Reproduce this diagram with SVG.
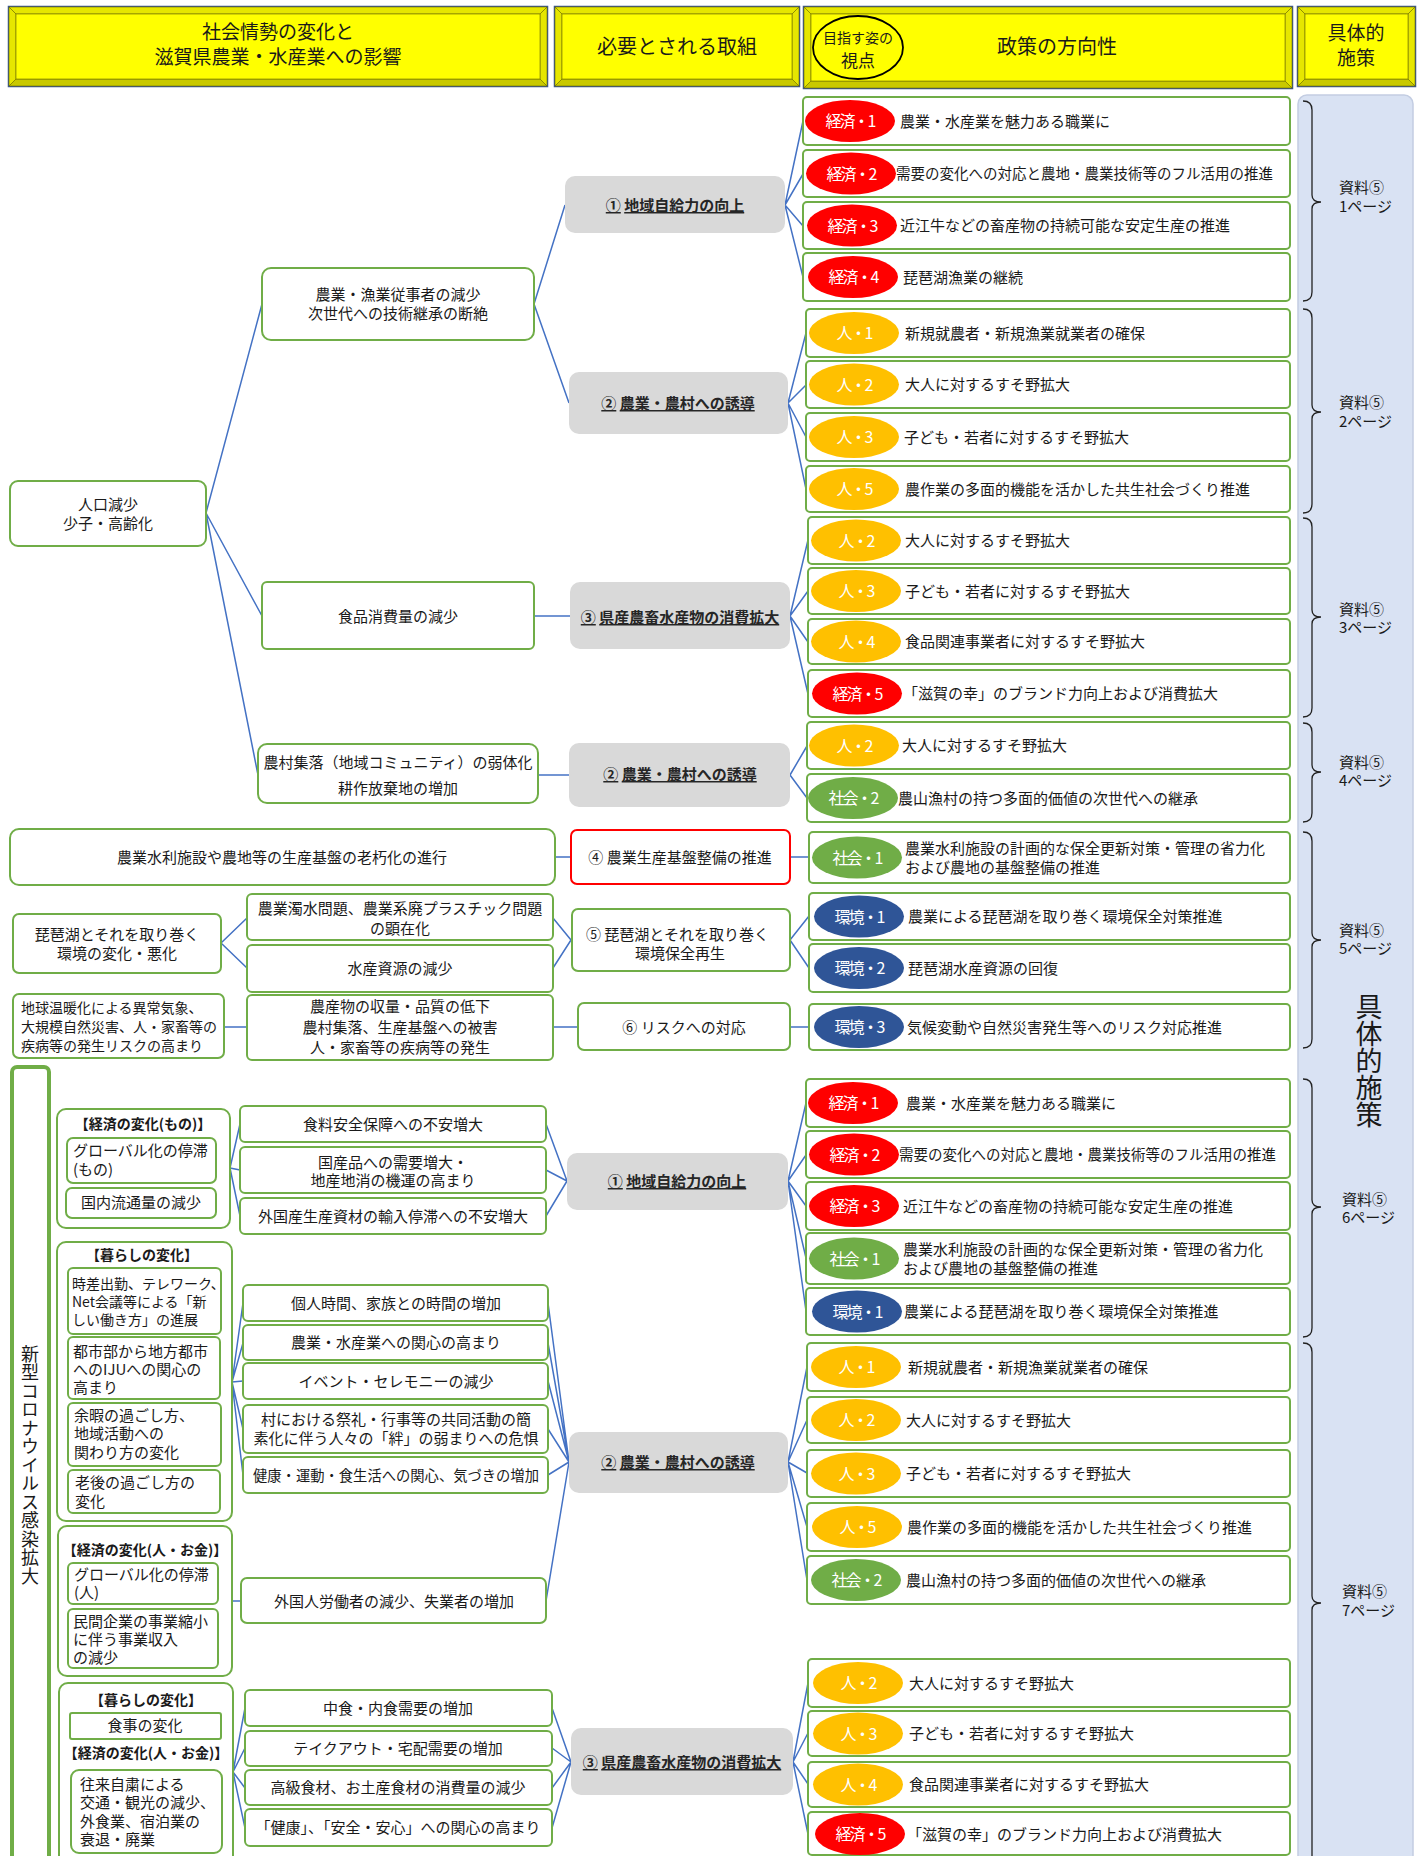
<svg xmlns="http://www.w3.org/2000/svg" width="1423" height="1856" viewBox="0 0 1423 1856">
<style>
text{font-family:"Noto Sans CJK JP","Noto Sans",sans-serif;fill:#1a1a1a}
.t{font-size:15px}
.s{font-size:14px}
.m{text-anchor:middle}
.b{font-weight:bold}
.g{fill:#fff;stroke:#70AD47;stroke-width:2}
.gr{fill:#D9D9D9}
.c{stroke:#4472C4;stroke-width:1.5;fill:none}
.br{stroke:#222;stroke-width:1.3;fill:none}
.eco{fill:#FF0000}.hum{fill:#FFC000}.soc{fill:#70AD47}.env{fill:#2F5597}
.bt{font-size:16px;fill:#fff;text-anchor:middle;letter-spacing:-2px}
.gt{font-size:15px;font-weight:bold;text-anchor:middle;fill:#262626}
.u{text-decoration:underline}
.hf{fill:#FFFF00;stroke:#3A5590;stroke-width:2.5}
.hb{fill:#C9C900;stroke:#6B6B00;stroke-width:0.6}
.hs{fill:#E6E600;stroke:#6B6B00;stroke-width:0.6}
.hi{fill:#FFFF00;stroke:#6B6B00;stroke-width:0.6}
.ht{font-size:20px;text-anchor:middle}
.ht2{font-size:19px;text-anchor:middle}
.lbl{font-size:15px}
.v{writing-mode:vertical-rl;text-orientation:upright}
</style>

<!-- Header -->
<g id="h1">
<rect class="hf" x="9" y="7" width="538" height="79"/>
<polygon class="hs" points="9,7 547,7 540,14 16,14"/>
<polygon class="hb" points="9,86 547,86 540,79 16,79"/>
<polygon class="hs" points="9,7 16,14 16,79 9,86"/>
<polygon class="hs" points="547,7 540,14 540,79 547,86"/>
<rect class="hi" x="16" y="14" width="524" height="65"/>
<text class="ht2" x="278" y="39">社会情勢の変化と</text>
<text class="ht2" x="278" y="64">滋賀県農業・水産業への影響</text>
</g>
<g id="h2">
<rect class="hf" x="555" y="7" width="244" height="79"/>
<polygon class="hs" points="555,7 799,7 792,14 562,14"/>
<polygon class="hb" points="555,86 799,86 792,79 562,79"/>
<polygon class="hs" points="555,7 562,14 562,79 555,86"/>
<polygon class="hs" points="799,7 792,14 792,79 799,86"/>
<rect class="hi" x="562" y="14" width="230" height="65"/>
<text class="ht" x="677" y="54">必要とされる取組</text>
</g>
<g id="h3">
<rect class="hf" x="804" y="7" width="488" height="81"/>
<polygon class="hs" points="804,7 1292,7 1285,14 811,14"/>
<polygon class="hb" points="804,88 1292,88 1285,81 811,81"/>
<polygon class="hs" points="804,7 811,14 811,81 804,88"/>
<polygon class="hs" points="1292,7 1285,14 1285,81 1292,88"/>
<rect class="hi" x="811" y="14" width="474" height="67"/>
<ellipse cx="858" cy="47.5" rx="45" ry="31.5" fill="none" stroke="#000" stroke-width="1.8"/>
<text x="858" y="43" class="m" style="font-size:14px">目指す姿の</text>
<text x="858" y="67" class="m" style="font-size:17px">視点</text>
<text class="ht" x="1057" y="54">政策の方向性</text>
</g>
<g id="h4">
<rect class="hf" x="1298" y="7" width="117" height="79"/>
<polygon class="hs" points="1298,7 1415,7 1408,14 1305,14"/>
<polygon class="hb" points="1298,86 1415,86 1408,79 1305,79"/>
<polygon class="hs" points="1298,7 1305,14 1305,79 1298,86"/>
<polygon class="hs" points="1415,7 1408,14 1408,79 1415,86"/>
<rect class="hi" x="1305" y="14" width="103" height="65"/>
<text class="ht2" x="1356" y="40">具体的</text>
<text class="ht2" x="1356" y="65">施策</text>
</g>

<!-- Right panel -->
<g id="panel">
<rect x="1298" y="95" width="115" height="1775" rx="9" fill="#D9E2F3" stroke="#C3CDE2" stroke-width="1.5"/>
<text class="v" x="1369" y="993" style="font-size:27px">具体的施策</text>
</g>

<!-- Braces -->
<g id="braces">
<path class="br" d="M1303,101 Q1312,101 1312,110 L1312,195 Q1312,202 1321,202 Q1312,202 1312,209 L1312,292 Q1312,301 1303,301"/>
<path class="br" d="M1303,309 Q1312,309 1312,318 L1312,405 Q1312,412 1321,412 Q1312,412 1312,419 L1312,504 Q1312,513 1303,513"/>
<path class="br" d="M1303,518 Q1312,518 1312,527 L1312,610 Q1312,617 1321,617 Q1312,617 1312,624 L1312,708 Q1312,717 1303,717"/>
<path class="br" d="M1303,723 Q1312,723 1312,732 L1312,765 Q1312,772 1321,772 Q1312,772 1312,779 L1312,813 Q1312,822 1303,822"/>
<path class="br" d="M1303,832 Q1312,832 1312,841 L1312,933 Q1312,940 1321,940 Q1312,940 1312,947 L1312,1039 Q1312,1048 1303,1048"/>
<path class="br" d="M1303,1079 Q1312,1079 1312,1088 L1312,1200 Q1312,1207 1321,1207 Q1312,1207 1312,1214 L1312,1328 Q1312,1337 1303,1337"/>
<path class="br" d="M1303,1343 Q1312,1343 1312,1352 L1312,1596 Q1312,1603 1321,1603 Q1312,1603 1312,1610 L1312,1870"/>
<text class="lbl"><tspan x="1339" y="193">資料⑤</tspan><tspan x="1339" y="212">1ページ</tspan></text>
<text class="lbl"><tspan x="1339" y="408">資料⑤</tspan><tspan x="1339" y="427">2ページ</tspan></text>
<text class="lbl"><tspan x="1339" y="615">資料⑤</tspan><tspan x="1339" y="633">3ページ</tspan></text>
<text class="lbl"><tspan x="1339" y="768">資料⑤</tspan><tspan x="1339" y="786">4ページ</tspan></text>
<text class="lbl"><tspan x="1339" y="936">資料⑤</tspan><tspan x="1339" y="954">5ページ</tspan></text>
<text class="lbl"><tspan x="1342" y="1205">資料⑤</tspan><tspan x="1342" y="1223">6ページ</tspan></text>
<text class="lbl"><tspan x="1342" y="1597">資料⑤</tspan><tspan x="1342" y="1616">7ページ</tspan></text>
</g>

<!-- Connectors -->
<g id="connectors">
<path class="c" d="M206,513 L262,304 M206,513 L262,616 M206,513 L258,775"/>
<path class="c" d="M534,304 L565,205 M534,304 L569,403"/>
<path class="c" d="M785,205 L803,121 M785,205 L803,174 M785,205 L803,226 M785,205 L803,277"/>
<path class="c" d="M788,403 L806,333 M788,403 L806,385 M788,403 L806,437 M788,403 L806,489"/>
<path class="c" d="M534,616 L570,616"/>
<path class="c" d="M790,616 L808,540 M790,616 L808,591 M790,616 L808,642 M790,616 L808,694"/>
<path class="c" d="M538,775 L569,775"/>
<path class="c" d="M790,775 L807,746 M790,775 L807,798"/>
<path class="c" d="M555,857 L570,857 M790,857 L809,857"/>
<path class="c" d="M221,943 L247,918 M221,943 L247,968"/>
<path class="c" d="M553,918 L571,940 M553,968 L571,940"/>
<path class="c" d="M790,940 L809,916 M790,940 L809,968"/>
<path class="c" d="M224,1027 L247,1027 M553,1027 L578,1027 M790,1027 L809,1027"/>
<path class="c" d="M230,1168 L240,1124 M230,1168 L240,1170 M230,1168 L240,1216"/>
<path class="c" d="M546,1124 L567,1181 M546,1170 L567,1181 M546,1216 L567,1181"/>
<path class="c" d="M788,1181 L806,1103 M788,1181 L806,1155 M788,1181 L806,1206 M788,1181 L806,1258 M788,1181 L806,1311"/>
<path class="c" d="M232,1382 L243,1303 M232,1382 L243,1343 M232,1382 L243,1381 M232,1382 L243,1429 M232,1382 L243,1475"/>
<path class="c" d="M548,1303 L569,1462 M548,1343 L569,1462 M548,1381 L569,1462 M548,1429 L569,1462 M548,1475 L569,1462 M546,1601 L569,1462"/>
<path class="c" d="M232,1601 L241,1601"/>
<path class="c" d="M788,1462 L807,1367 M788,1462 L807,1420 M788,1462 L807,1473 M788,1462 L807,1527 M788,1462 L807,1580"/>
<path class="c" d="M233,1772 L245,1708 M233,1772 L245,1748 M233,1772 L245,1788 M233,1772 L245,1828"/>
<path class="c" d="M552,1708 L571,1762 M552,1748 L571,1762 M552,1788 L571,1762 M552,1828 L571,1762"/>
<path class="c" d="M793,1762 L808,1683 M793,1762 L808,1733 M793,1762 L808,1784 M793,1762 L808,1834"/>
</g>

<!-- Top left nodes -->
<g id="n_root"><rect class="g" x="10" y="481" width="196" height="65" rx="8"/>
<text class="t m" x="108" y="510">人口減少</text><text class="t m" x="108" y="529">少子・高齢化</text></g>
<g id="n_m1"><rect class="g" x="262" y="268" width="272" height="72" rx="9"/>
<text class="t m" x="398" y="300">農業・漁業従事者の減少</text><text class="t m" x="398" y="319">次世代への技術継承の断絶</text></g>
<g id="n_m2"><rect class="g" x="262" y="582" width="272" height="67" rx="5"/>
<text class="t m" x="398" y="622">食品消費量の減少</text></g>
<g id="n_m3"><rect class="g" x="258" y="744" width="280" height="59" rx="9"/>
<text class="t m" x="398" y="768">農村集落（地域コミュニティ）の弱体化</text><text class="t m" x="398" y="794">耕作放棄地の増加</text></g>
<g id="n_old"><rect class="g" x="10" y="829" width="545" height="56" rx="9"/>
<text class="t m" x="282" y="863">農業水利施設や農地等の生産基盤の老朽化の進行</text></g>
<g id="n_biwa"><rect class="g" x="13" y="914" width="208" height="59" rx="6"/>
<text class="t m" x="117" y="940">琵琶湖とそれを取り巻く</text><text class="t m" x="117" y="959">環境の変化・悪化</text></g>
<g id="n_daku"><rect class="g" x="247" y="894" width="306" height="46" rx="5"/>
<text class="t m" x="400" y="914">農業濁水問題、農業系廃プラスチック問題</text><text class="t m" x="400" y="934">の顕在化</text></g>
<g id="n_suisan"><rect class="g" x="247" y="945" width="306" height="47" rx="5"/>
<text class="t m" x="400" y="974">水産資源の減少</text></g>
<g id="n_ondan"><rect class="g" x="13" y="994" width="211" height="64" rx="6"/>
<text class="s" x="21" y="1013">地球温暖化による異常気象、</text><text class="s" x="21" y="1032">大規模自然災害、人・家畜等の</text><text class="s" x="21" y="1051">疾病等の発生リスクの高まり</text></g>
<g id="n_nousan"><rect class="g" x="247" y="995" width="306" height="65" rx="5"/>
<text class="t m" x="400" y="1012">農産物の収量・品質の低下</text><text class="t m" x="400" y="1033">農村集落、生産基盤への被害</text><text class="t m" x="400" y="1053">人・家畜等の疾病等の発生</text></g>

<!-- Top gray nodes -->
<g id="n_a1"><rect class="gr" x="565" y="176" width="220" height="57" rx="10"/>
<text class="gt" x="675" y="211"><tspan class="u">①</tspan> <tspan class="u">地域自給力の向上</tspan></text></g>
<g id="n_a2"><rect class="gr" x="569" y="372" width="219" height="62" rx="10"/>
<text class="gt" x="678" y="409"><tspan class="u">②</tspan> <tspan class="u">農業・農村への誘導</tspan></text></g>
<g id="n_a3"><rect class="gr" x="570" y="582" width="220" height="67" rx="10"/>
<text class="gt" x="680" y="623"><tspan class="u">③</tspan> <tspan class="u">県産農畜水産物の消費拡大</tspan></text></g>
<g id="n_a2b"><rect class="gr" x="569" y="743" width="221" height="64" rx="10"/>
<text class="gt" x="680" y="780"><tspan class="u">②</tspan> <tspan class="u">農業・農村への誘導</tspan></text></g>
<g id="n_a4"><rect x="571" y="830" width="219" height="54" rx="6" fill="#fff" stroke="#FF0000" stroke-width="2"/>
<text class="t m" x="680" y="863">④ 農業生産基盤整備の推進</text></g>
<g id="n_a5"><rect class="g" x="572" y="909" width="218" height="62" rx="6"/>
<text class="t" x="586" y="940">⑤ 琵琶湖とそれを取り巻く</text><text class="t m" x="680" y="959">環境保全再生</text></g>
<g id="n_a6"><rect class="g" x="578" y="1003" width="212" height="47" rx="6"/>
<text class="t m" x="684" y="1033">⑥ リスクへの対応</text></g>

<!-- Top policy rows -->
<g id="p1"><rect class="g" x="803" y="97" width="487" height="48" rx="4"/><ellipse class="eco" cx="850" cy="121" rx="45" ry="21"/><text class="bt" x="850" y="127">経済・1</text><text class="t" x="900" y="126.5">農業・水産業を魅力ある職業に</text></g>
<g id="p2"><rect class="g" x="803" y="150" width="487" height="47" rx="4"/><ellipse class="eco" cx="851" cy="173.5" rx="45" ry="21"/><text class="bt" x="851" y="179.5">経済・2</text><text x="896" y="179" style="font-size:14.5px">需要の変化への対応と農地・農業技術等のフル活用の推進</text></g>
<g id="p3"><rect class="g" x="803" y="202" width="487" height="47" rx="4"/><ellipse class="eco" cx="852" cy="225.5" rx="45" ry="21"/><text class="bt" x="852" y="231.5">経済・3</text><text class="t" x="900" y="231">近江牛などの畜産物の持続可能な安定生産の推進</text></g>
<g id="p4"><rect class="g" x="803" y="253" width="487" height="48" rx="4"/><ellipse class="eco" cx="853" cy="277" rx="45" ry="21"/><text class="bt" x="853" y="283">経済・4</text><text class="t" x="903" y="282.5">琵琶湖漁業の継続</text></g>
<g id="p5"><rect class="g" x="806" y="309" width="484" height="48" rx="4"/><ellipse class="hum" cx="854" cy="333" rx="45" ry="21"/><text class="bt" x="854" y="339">人・1</text><text class="t" x="905" y="338.5">新規就農者・新規漁業就業者の確保</text></g>
<g id="p6"><rect class="g" x="806" y="361" width="484" height="47" rx="4"/><ellipse class="hum" cx="854" cy="384.5" rx="45" ry="21"/><text class="bt" x="854" y="390.5">人・2</text><text class="t" x="905" y="390">大人に対するすそ野拡大</text></g>
<g id="p7"><rect class="g" x="806" y="413" width="484" height="48" rx="4"/><ellipse class="hum" cx="854" cy="437" rx="45" ry="21"/><text class="bt" x="854" y="443">人・3</text><text class="t" x="904" y="442.5">子ども・若者に対するすそ野拡大</text></g>
<g id="p8"><rect class="g" x="806" y="466" width="484" height="46" rx="4"/><ellipse class="hum" cx="854" cy="489" rx="45" ry="21"/><text class="bt" x="854" y="495">人・5</text><text class="t" x="905" y="494.5">農作業の多面的機能を活かした共生社会づくり推進</text></g>
<g id="p9"><rect class="g" x="808" y="517" width="482" height="47" rx="4"/><ellipse class="hum" cx="856" cy="540.5" rx="45" ry="21"/><text class="bt" x="856" y="546.5">人・2</text><text class="t" x="905" y="546">大人に対するすそ野拡大</text></g>
<g id="p10"><rect class="g" x="808" y="568" width="482" height="46" rx="4"/><ellipse class="hum" cx="856" cy="591" rx="45" ry="21"/><text class="bt" x="856" y="597">人・3</text><text class="t" x="905" y="596.5">子ども・若者に対するすそ野拡大</text></g>
<g id="p11"><rect class="g" x="808" y="619" width="482" height="45" rx="4"/><ellipse class="hum" cx="856" cy="641.5" rx="45" ry="21"/><text class="bt" x="856" y="647.5">人・4</text><text class="t" x="905" y="647">食品関連事業者に対するすそ野拡大</text></g>
<g id="p12"><rect class="g" x="808" y="670" width="482" height="47" rx="4"/><ellipse class="eco" cx="857" cy="693.5" rx="45" ry="21"/><text class="bt" x="857" y="699.5">経済・5</text><text class="t" x="903" y="699">「滋賀の幸」のブランド力向上および消費拡大</text></g>
<g id="p13"><rect class="g" x="807" y="722" width="483" height="47" rx="4"/><ellipse class="hum" cx="854" cy="745.5" rx="45" ry="21"/><text class="bt" x="854" y="751.5">人・2</text><text class="t" x="902" y="751">大人に対するすそ野拡大</text></g>
<g id="p14"><rect class="g" x="807" y="774" width="483" height="48" rx="4"/><ellipse class="soc" cx="853" cy="798" rx="45" ry="21"/><text class="bt" x="853" y="804">社会・2</text><text class="t" x="898" y="803.5">農山漁村の持つ多面的価値の次世代への継承</text></g>
<g id="p15"><rect class="g" x="809" y="832" width="481" height="51" rx="4"/><ellipse class="soc" cx="857" cy="857.5" rx="45" ry="21"/><text class="bt" x="857" y="863.5">社会・1</text><text class="t" x="905" y="853.5">農業水利施設の計画的な保全更新対策・管理の省力化</text><text class="t" x="905" y="872.5">および農地の基盤整備の推進</text></g>
<g id="p16"><rect class="g" x="809" y="893" width="481" height="47" rx="4"/><ellipse class="env" cx="859" cy="916.5" rx="45" ry="21"/><text class="bt" x="859" y="922.5">環境・1</text><text class="t" x="908" y="922">農業による琵琶湖を取り巻く環境保全対策推進</text></g>
<g id="p17"><rect class="g" x="809" y="944" width="481" height="48" rx="4"/><ellipse class="env" cx="859" cy="968" rx="45" ry="21"/><text class="bt" x="859" y="974">環境・2</text><text class="t" x="908" y="973.5">琵琶湖水産資源の回復</text></g>
<g id="p18"><rect class="g" x="809" y="1004" width="481" height="46" rx="4"/><ellipse class="env" cx="859" cy="1027" rx="45" ry="21"/><text class="bt" x="859" y="1033">環境・3</text><text class="t" x="907" y="1032.5">気候変動や自然災害発生等へのリスク対応推進</text></g>

<!-- Bottom left: COVID frame -->
<g id="n_covid"><rect x="12" y="1067" width="37" height="820" rx="5" fill="#fff" stroke="#70AD47" stroke-width="4"/>
<text class="v" x="30" y="1345" style="font-size:18px;letter-spacing:0.5px">新型コロナウイルス感染拡大</text></g>

<g id="grp_mono"><rect class="g" x="57" y="1109" width="173" height="119" rx="9"/>
<text class="s b m" x="143" y="1129">【経済の変化(もの)】</text>
<rect class="g" x="67" y="1138" width="149" height="45" rx="6"/>
<text class="t" x="73" y="1156">グローバル化の停滞</text><text class="t" x="73" y="1175">(もの)</text>
<rect class="g" x="66" y="1188" width="150" height="30" rx="6"/>
<text class="t m" x="141" y="1208">国内流通量の減少</text></g>

<g id="grp_kurashi"><rect class="g" x="57" y="1242" width="175" height="279" rx="9"/>
<text class="s b m" x="142" y="1260">【暮らしの変化】</text>
<rect class="g" x="68" y="1268" width="153" height="66" rx="5"/>
<text class="s" x="72" y="1289">時差出勤、テレワーク、</text><text class="s" x="72" y="1307">Net会議等による「新</text><text class="s" x="72" y="1325">しい働き方」の進展</text>
<rect class="g" x="68" y="1337" width="152" height="62" rx="5"/>
<text class="t" x="73" y="1357">都市部から地方都市</text><text class="t" x="73" y="1375">へのIJUへの関心の</text><text class="t" x="73" y="1393">高まり</text>
<rect class="g" x="68" y="1403" width="153" height="63" rx="5"/>
<text class="t" x="74" y="1421">余暇の過ごし方、</text><text class="t" x="74" y="1439">地域活動への</text><text class="t" x="74" y="1458">関わり方の変化</text>
<rect class="g" x="68" y="1470" width="152" height="43" rx="5"/>
<text class="t" x="75" y="1488">老後の過ごし方の</text><text class="t" x="75" y="1507">変化</text></g>

<g id="grp_hito"><rect class="g" x="58" y="1526" width="174" height="150" rx="9"/>
<text class="s b m" x="145" y="1555">【経済の変化(人・お金)】</text>
<rect class="g" x="68" y="1563" width="150" height="41" rx="5"/>
<text class="t" x="74" y="1580">グローバル化の停滞</text><text class="t" x="74" y="1598">(人)</text>
<rect class="g" x="68" y="1609" width="150" height="59" rx="5"/>
<text class="t" x="73" y="1627">民間企業の事業縮小</text><text class="t" x="73" y="1645">に伴う事業収入</text><text class="t" x="73" y="1663">の減少</text></g>

<g id="grp_shoku"><rect class="g" x="59" y="1683" width="174" height="200" rx="9"/>
<text class="s b m" x="146" y="1705">【暮らしの変化】</text>
<rect class="g" x="70" y="1713" width="151" height="26" rx="2"/>
<text class="t m" x="145" y="1731">食事の変化</text>
<text class="s b m" x="146" y="1758">【経済の変化(人・お金)】</text>
<rect class="g" x="71" y="1770" width="151" height="83" rx="8"/>
<text class="t" x="80" y="1790">往来自粛による</text><text class="t" x="80" y="1808">交通・観光の減少、</text><text class="t" x="80" y="1827">外食業、宿泊業の</text><text class="t" x="80" y="1845">衰退・廃業</text></g>

<!-- Bottom mid nodes -->
<g id="b1"><rect class="g" x="240" y="1106" width="306" height="36" rx="5"/><text class="t m" x="393" y="1129.5">食料安全保障への不安増大</text></g>
<g id="b2"><rect class="g" x="240" y="1147" width="306" height="46" rx="5"/><text class="t m" x="393" y="1167.5">国産品への需要増大・</text><text class="t m" x="393" y="1185.5">地産地消の機運の高まり</text></g>
<g id="b3"><rect class="g" x="240" y="1198" width="306" height="36" rx="5"/><text class="t m" x="393" y="1222">外国産生産資材の輸入停滞への不安増大</text></g>
<g id="b4"><rect class="g" x="243" y="1285" width="305" height="36" rx="5"/><text class="t m" x="396" y="1308.5">個人時間、家族との時間の増加</text></g>
<g id="b5"><rect class="g" x="243" y="1325" width="305" height="35" rx="5"/><text class="t m" x="396" y="1348">農業・水産業への関心の高まり</text></g>
<g id="b6"><rect class="g" x="243" y="1363" width="305" height="36" rx="5"/><text class="t m" x="396" y="1386.5">イベント・セレモニーの減少</text></g>
<g id="b7"><rect class="g" x="243" y="1405" width="305" height="48" rx="5"/><text class="t m" x="396" y="1425">村における祭礼・行事等の共同活動の簡</text><text class="t m" x="396" y="1444">素化に伴う人々の「絆」の弱まりへの危惧</text></g>
<g id="b8"><rect class="g" x="243" y="1457" width="305" height="36" rx="5"/><text class="m" x="396" y="1480.5" style="font-size:14.3px">健康・運動・食生活への関心、気づきの増加</text></g>
<g id="b9"><rect class="g" x="241" y="1578" width="305" height="45" rx="6"/><text class="t m" x="394" y="1606.5">外国人労働者の減少、失業者の増加</text></g>
<g id="b10"><rect class="g" x="245" y="1690" width="307" height="36" rx="5"/><text class="t m" x="398" y="1713.5">中食・内食需要の増加</text></g>
<g id="b11"><rect class="g" x="245" y="1731" width="307" height="35" rx="5"/><text class="t m" x="398" y="1754">テイクアウト・宅配需要の増加</text></g>
<g id="b12"><rect class="g" x="245" y="1770" width="307" height="35" rx="5"/><text class="t m" x="398" y="1793">高級食材、お土産食材の消費量の減少</text></g>
<g id="b13"><rect class="g" x="245" y="1809" width="307" height="37" rx="5"/><text class="t m" x="398" y="1833">「健康」、「安全・安心」への関心の高まり</text></g>

<!-- Bottom gray -->
<g id="n_c1"><rect class="gr" x="567" y="1153" width="221" height="57" rx="10"/>
<text class="gt" x="677" y="1187"><tspan class="u">①</tspan> <tspan class="u">地域自給力の向上</tspan></text></g>
<g id="n_c2"><rect class="gr" x="569" y="1432" width="219" height="61" rx="10"/>
<text class="gt" x="678" y="1468"><tspan class="u">②</tspan> <tspan class="u">農業・農村への誘導</tspan></text></g>
<g id="n_c3"><rect class="gr" x="571" y="1728" width="222" height="67" rx="10"/>
<text class="gt" x="682" y="1768"><tspan class="u">③</tspan> <tspan class="u">県産農畜水産物の消費拡大</tspan></text></g>

<!-- Bottom policy rows -->
<g id="q1"><rect class="g" x="806" y="1079" width="484" height="48" rx="4"/><ellipse class="eco" cx="853" cy="1103" rx="45" ry="21"/><text class="bt" x="853" y="1109">経済・1</text><text class="t" x="906" y="1108.5">農業・水産業を魅力ある職業に</text></g>
<g id="q2"><rect class="g" x="806" y="1131" width="484" height="47" rx="4"/><ellipse class="eco" cx="854" cy="1154.5" rx="45" ry="21"/><text class="bt" x="854" y="1160.5">経済・2</text><text x="899" y="1160" style="font-size:14.5px">需要の変化への対応と農地・農業技術等のフル活用の推進</text></g>
<g id="q3"><rect class="g" x="806" y="1182" width="484" height="48" rx="4"/><ellipse class="eco" cx="854" cy="1206" rx="45" ry="21"/><text class="bt" x="854" y="1212">経済・3</text><text class="t" x="903" y="1211.5">近江牛などの畜産物の持続可能な安定生産の推進</text></g>
<g id="q4"><rect class="g" x="806" y="1233" width="484" height="51" rx="4"/><ellipse class="soc" cx="854" cy="1258.5" rx="45" ry="21"/><text class="bt" x="854" y="1264.5">社会・1</text><text class="t" x="903" y="1254.5">農業水利施設の計画的な保全更新対策・管理の省力化</text><text class="t" x="903" y="1273.5">および農地の基盤整備の推進</text></g>
<g id="q5"><rect class="g" x="806" y="1288" width="484" height="47" rx="4"/><ellipse class="env" cx="857" cy="1311.5" rx="45" ry="21"/><text class="bt" x="857" y="1317.5">環境・1</text><text class="t" x="904" y="1317">農業による琵琶湖を取り巻く環境保全対策推進</text></g>
<g id="q6"><rect class="g" x="807" y="1343" width="483" height="48" rx="4"/><ellipse class="hum" cx="856" cy="1367" rx="45" ry="21"/><text class="bt" x="856" y="1373">人・1</text><text class="t" x="908" y="1372.5">新規就農者・新規漁業就業者の確保</text></g>
<g id="q7"><rect class="g" x="807" y="1397" width="483" height="46" rx="4"/><ellipse class="hum" cx="856" cy="1420" rx="45" ry="21"/><text class="bt" x="856" y="1426">人・2</text><text class="t" x="906" y="1425.5">大人に対するすそ野拡大</text></g>
<g id="q8"><rect class="g" x="807" y="1450" width="483" height="47" rx="4"/><ellipse class="hum" cx="856" cy="1473.5" rx="45" ry="21"/><text class="bt" x="856" y="1479.5">人・3</text><text class="t" x="906" y="1479">子ども・若者に対するすそ野拡大</text></g>
<g id="q9"><rect class="g" x="807" y="1503" width="483" height="48" rx="4"/><ellipse class="hum" cx="857" cy="1527" rx="45" ry="21"/><text class="bt" x="857" y="1533">人・5</text><text class="t" x="907" y="1532.5">農作業の多面的機能を活かした共生社会づくり推進</text></g>
<g id="q10"><rect class="g" x="807" y="1556" width="483" height="48" rx="4"/><ellipse class="soc" cx="856" cy="1580" rx="45" ry="21"/><text class="bt" x="856" y="1586">社会・2</text><text class="t" x="906" y="1585.5">農山漁村の持つ多面的価値の次世代への継承</text></g>
<g id="q11"><rect class="g" x="808" y="1659" width="482" height="48" rx="4"/><ellipse class="hum" cx="858" cy="1683" rx="45" ry="21"/><text class="bt" x="858" y="1689">人・2</text><text class="t" x="909" y="1688.5">大人に対するすそ野拡大</text></g>
<g id="q12"><rect class="g" x="808" y="1711" width="482" height="45" rx="4"/><ellipse class="hum" cx="858" cy="1733.5" rx="45" ry="21"/><text class="bt" x="858" y="1739.5">人・3</text><text class="t" x="909" y="1739">子ども・若者に対するすそ野拡大</text></g>
<g id="q13"><rect class="g" x="808" y="1762" width="482" height="45" rx="4"/><ellipse class="hum" cx="858" cy="1784.5" rx="45" ry="21"/><text class="bt" x="858" y="1790.5">人・4</text><text class="t" x="909" y="1790">食品関連事業者に対するすそ野拡大</text></g>
<g id="q14"><rect class="g" x="808" y="1812" width="482" height="43" rx="4"/><ellipse class="eco" cx="860" cy="1834" rx="45" ry="21"/><text class="bt" x="860" y="1840">経済・5</text><text class="t" x="907" y="1839.5">「滋賀の幸」のブランド力向上および消費拡大</text></g>
</svg>
